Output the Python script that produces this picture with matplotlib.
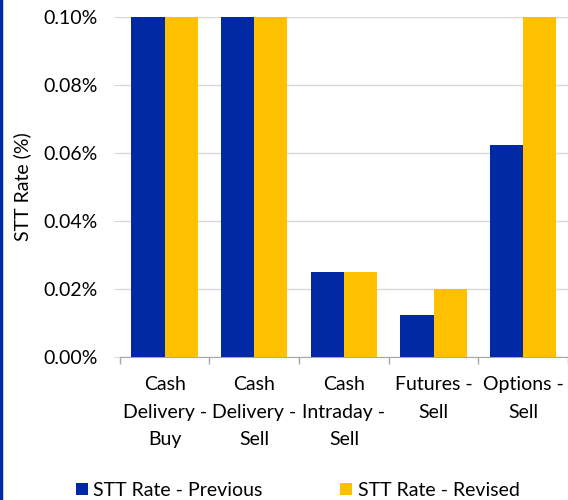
import numpy as np
import matplotlib
matplotlib.use("Agg")
import matplotlib.pyplot as plt
from matplotlib.lines import Line2D
from matplotlib.ticker import PercentFormatter

categories = ["Cash\nDelivery -\nBuy", "Cash\nDelivery -\nSell", "Cash\nIntraday -\nSell",
              "Futures -\nSell", "Options -\nSell"]
previous = [0.1, 0.1, 0.025, 0.0125, 0.0625]
revised = [0.1, 0.1, 0.025, 0.02, 0.1]
yticks = [0.0, 0.02, 0.04, 0.06, 0.08, 0.10]

blue = "#0029A3"
yellow = "#FFC000"
grid_c = "#D9D9D9"
fs = 14

plt.rcParams['font.family'] = ['Lato', 'DejaVu Sans']

fig = plt.figure(figsize=(5.68, 5.0), dpi=100)
ax = fig.add_axes([0.211, 0.286, 0.789, 0.68])

x = np.arange(len(categories))
w = 0.37
b1 = ax.bar(x - w / 2, previous, w, color=blue, zorder=3)
b2 = ax.bar(x + w / 2, revised, w, color=yellow, zorder=3)

ax.set_xlim(-0.5, len(categories) - 0.5)
ax.set_ylim(0, 0.1)
ax.set_yticks(yticks)
ax.yaxis.set_major_formatter(PercentFormatter(decimals=2))
ax.grid(axis="y", color=grid_c, linewidth=1, zorder=0)
ax.set_axisbelow(True)

ax.set_xticks(x)
ax.set_xticklabels(categories, linespacing=1.72, va="top")
ax.set_xticks(np.arange(len(categories) + 1) - 0.5, minor=True)
ax.tick_params(axis="x", which="major", length=0, pad=14, labelsize=fs)
ax.tick_params(axis="x", which="minor", length=5, color="#A6A6A6", width=1)
ax.tick_params(axis="y", length=4, color=grid_c, pad=12, labelsize=fs)

for s in ["top", "right", "left"]:
    ax.spines[s].set_visible(False)
ax.spines["bottom"].set_color("#A6A6A6")
ax.set_ylabel("STT Rate (%)", fontsize=fs)
ax.yaxis.set_label_coords(-0.197, 0.5)

fig.legend([b1, b2], ["STT Rate - Previous", "STT Rate - Revised"], loc="lower center",
           bbox_to_anchor=(0.524, -0.033), ncol=2, frameon=False, fontsize=fs,
           handlelength=0.62, handleheight=0.62, handletextpad=0.28, columnspacing=4.0)

fig.add_artist(Line2D([0.002, 0.002], [0, 1], transform=fig.transFigure, color="#0029A3", linewidth=2.5))

fig.savefig("out.png", dpi=100)
